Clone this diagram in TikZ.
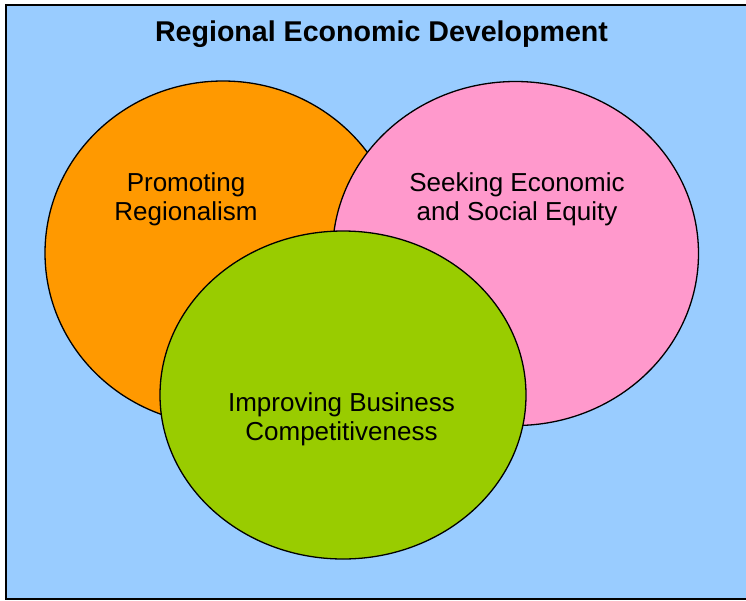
\documentclass[tikz,border=0pt]{standalone}
\usepackage{fontspec}
\setmainfont{Liberation Sans}
\usetikzlibrary{shapes.geometric}
\definecolor{bgblue}{HTML}{99CCFF}
\definecolor{vorange}{HTML}{FF9900}
\definecolor{vpink}{HTML}{FF99CC}
\definecolor{vgreen}{HTML}{99CC00}
\tikzset{
  venn/.style={ellipse, draw=black, line width=1.3pt, inner sep=0pt},
  lbl/.style={align=center, inner sep=0pt, font=\fontsize{26}{29.5}\selectfont},
  ttl/.style={inner sep=0pt, font=\bfseries\fontsize{28.6}{32}\selectfont}
}
\begin{document}
\begin{tikzpicture}[x=1pt, y=-1pt]
\useasboundingbox (0,0) rectangle (746,600);
\fill[white] (0,0) rectangle (746,600);
\draw[fill=bgblue, line width=1.6pt] (6,5) rectangle (752,599);
\node[ttl, anchor=base] (title) at (381.5,41) {Regional Economic Development};
\node[venn, fill=vorange, minimum width=356pt, minimum height=344pt] (orange) at (223,253) {};
\node[venn, fill=vpink, minimum width=366pt, minimum height=344pt] (pink) at (515.5,253.5) {};
\node[venn, fill=vgreen, minimum width=366pt, minimum height=328pt] (green) at (343,395) {};
\node[lbl] (promo) at (186,199.5) {Promoting\\Regionalism};
\node[lbl] (seek) at (517,199.5) {Seeking Economic\\and Social Equity};
\node[lbl] (impr) at (341.5,419.5) {Improving Business\\Competitiveness};
\end{tikzpicture}
\end{document}
